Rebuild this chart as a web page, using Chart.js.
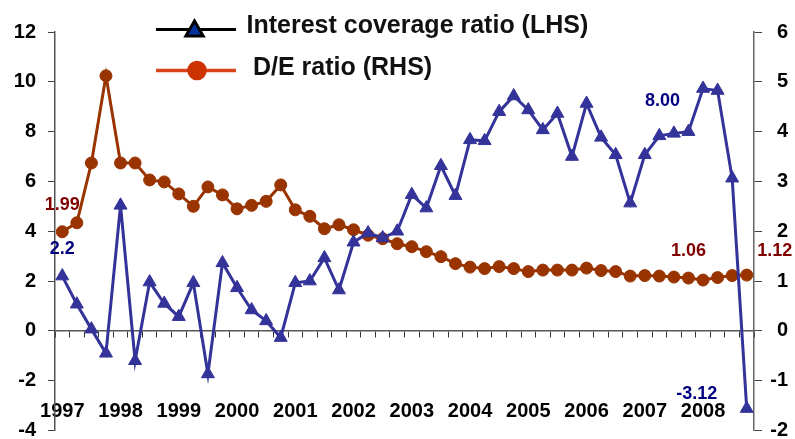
<!DOCTYPE html>
<html>
<head>
<meta charset="utf-8">
<script src="https://cdn.jsdelivr.net/npm/chart.js@4.4.1/dist/chart.umd.min.js"></script>
<style>
  html, body { margin: 0; padding: 0; background: #ffffff; }
  #wrap { width: 795px; height: 439px; }
</style>
</head>
<body>
<div id="wrap"><canvas id="c" width="795" height="439"></canvas></div>
<script>
// ---------- DATA ----------
const quarters = [
  '1997 Q1','1997 Q2','1997 Q3','1997 Q4',
  '1998 Q1','1998 Q2','1998 Q3','1998 Q4',
  '1999 Q1','1999 Q2','1999 Q3','1999 Q4',
  '2000 Q1','2000 Q2','2000 Q3','2000 Q4',
  '2001 Q1','2001 Q2','2001 Q3','2001 Q4',
  '2002 Q1','2002 Q2','2002 Q3','2002 Q4',
  '2003 Q1','2003 Q2','2003 Q3','2003 Q4',
  '2004 Q1','2004 Q2','2004 Q3','2004 Q4',
  '2005 Q1','2005 Q2','2005 Q3','2005 Q4',
  '2006 Q1','2006 Q2','2006 Q3','2006 Q4',
  '2007 Q1','2007 Q2','2007 Q3','2007 Q4',
  '2008 Q1','2008 Q2','2008 Q3','2008 Q4'
];
const yearLabels = ['1997','1998','1999','2000','2001','2002','2003','2004','2005','2006','2007','2008'];

const interestCoverage = [
  2.2, 1.07, 0.07, -0.9, 5.04, -1.2, 1.96, 1.1, 0.57, 1.93, -1.73, 2.73,
  1.73, 0.84, 0.4, -0.27, 1.93, 2.0, 2.93, 1.64, 3.56, 3.93, 3.73, 4.0,
  5.47, 4.93, 6.63, 5.43, 7.67, 7.63, 8.8, 9.43, 8.87, 8.07, 8.73, 7.0,
  9.13, 7.77, 7.07, 5.13, 7.07, 7.83, 7.93, 8.00, 9.73, 9.65, 6.13, -3.12
];
const deRatio = [
  1.99, 2.17, 3.37, 5.12, 3.37, 3.37, 3.03, 2.99, 2.75, 2.5, 2.89, 2.73,
  2.45, 2.52, 2.6, 2.93, 2.43, 2.3, 2.05, 2.13, 2.03, 1.92, 1.85, 1.75,
  1.69, 1.59, 1.49, 1.35, 1.28, 1.25, 1.29, 1.25, 1.19, 1.22, 1.22, 1.22,
  1.26, 1.21, 1.19, 1.1, 1.11, 1.1, 1.08, 1.06, 1.02, 1.07, 1.11, 1.12
];
const seriesNames = ['Interest coverage ratio (LHS)', 'D/E ratio (RHS)'];

const leftTicks = { min: -4, max: 12, step: 2 };
const rightTicks = { min: -2, max: 6, step: 1 };

// value call-outs: which series / which point / decimals shown
const noteSeries = [0, 1, 0, 1, 0, 1];
const noteIndex = [0, 0, 43, 43, 47, 47];
const noteDecimals = [1, 2, 2, 2, 2, 2];

// ---------- STYLE ----------
const FONT = '"Liberation Sans", Arial, sans-serif';
const noteOffsets = [[0, -27], [0, -27], [-26, -31], [0, -27], [-50, -15], [28, -24]];
const seriesColors = ['#333399', '#993300'];
const noteColors = ['#000080', '#800000'];

const notesPlugin = {
  id: 'valueNotes',
  afterDatasetsDraw(chart) {
    const ctx = chart.ctx;
    ctx.save();
    ctx.font = 'bold 18px ' + FONT;
    ctx.textAlign = 'center';
    ctx.textBaseline = 'middle';
    const sets = [interestCoverage, deRatio];
    for (let k = 0; k < noteIndex.length; k++) {
      const s = noteSeries[k], i = noteIndex[k];
      const pt = chart.getDatasetMeta(s).data[i];
      ctx.fillStyle = noteColors[s];
      ctx.fillText(sets[s][i].toFixed(noteDecimals[k]), pt.x + noteOffsets[k][0], pt.y + noteOffsets[k][1]);
    }
    ctx.restore();
  }
};

const legendPlugin = {
  id: 'overlayLegend',
  afterDraw(chart) {
    const ctx = chart.ctx;
    ctx.save();
    // item 1
    ctx.strokeStyle = '#000000';
    ctx.lineWidth = 3;
    ctx.beginPath(); ctx.moveTo(156, 29.5); ctx.lineTo(236, 29.5); ctx.stroke();
    ctx.fillStyle = '#0033a0';
    ctx.strokeStyle = '#000000';
    Chart.helpers.drawPoint(ctx, { pointStyle: 'triangle', radius: 10, borderWidth: 1 }, 194.5, 31);
    // item 2
    ctx.strokeStyle = '#d9441a';
    ctx.lineWidth = 3.5;
    ctx.beginPath(); ctx.moveTo(156, 70.5); ctx.lineTo(236, 70.5); ctx.stroke();
    ctx.fillStyle = '#cc3300';
    ctx.strokeStyle = '#cc3300';
    Chart.helpers.drawPoint(ctx, { pointStyle: 'circle', radius: 8, borderWidth: 1 }, 197, 70.5);
    // texts
    ctx.fillStyle = '#111111';
    ctx.font = 'bold 25px ' + FONT;
    ctx.textAlign = 'left';
    ctx.textBaseline = 'alphabetic';
    ctx.fillText(seriesNames[0], 246.5, 33);
    ctx.fillText(seriesNames[1], 253, 75);
    ctx.restore();
  }
};

const tickFont = { family: FONT, size: 20, weight: 'bold' };

new Chart(document.getElementById('c'), {
  type: 'line',
  data: {
    labels: quarters,
    datasets: [
      {
        label: seriesNames[0],
        data: interestCoverage,
        yAxisID: 'y',
        borderColor: seriesColors[0],
        backgroundColor: seriesColors[0],
        borderWidth: 3,
        pointStyle: 'triangle',
        pointRadius: 7.5,
        pointBorderWidth: 1,
        pointBackgroundColor: seriesColors[0],
        pointBorderColor: seriesColors[0],
        tension: 0,
        fill: false
      },
      {
        label: seriesNames[1],
        data: deRatio,
        yAxisID: 'y1',
        borderColor: seriesColors[1],
        backgroundColor: seriesColors[1],
        borderWidth: 3,
        pointStyle: 'circle',
        pointRadius: 6,
        pointBorderWidth: 1,
        pointBackgroundColor: seriesColors[1],
        pointBorderColor: seriesColors[1],
        tension: 0,
        fill: false
      }
    ]
  },
  options: {
    responsive: false,
    animation: false,
    events: [],
    layout: { padding: { left: 0, right: 7, top: 32, bottom: 7 } },
    plugins: { legend: { display: false }, tooltip: { enabled: false } },
    scales: {
      x: {
        type: 'category',
        offset: true,
        position: { y: 0 },
        grid: { offset: true, drawOnChartArea: false, drawTicks: true, tickLength: 6, color: '#333333', lineWidth: 1 },
        border: { display: true, color: '#555555', width: 1.5 },
        ticks: {
          autoSkip: false, maxRotation: 0, minRotation: 0, padding: 63,
          color: '#000000', font: tickFont,
          callback: (v, i) => (i % 4 === 0 ? yearLabels[i / 4] : '')
        },
        afterFit(s) { s.paddingLeft = 0; s.paddingRight = 0; }
      },
      y: {
        position: 'left',
        min: leftTicks.min, max: leftTicks.max,
        grid: { drawOnChartArea: false, drawTicks: true, tickLength: 7, color: '#444444' },
        border: { display: true, color: '#555555', width: 1.5 },
        ticks: { stepSize: leftTicks.step, padding: 12, color: '#000000', font: tickFont },
        afterFit(s) { s.width = 55; s.paddingTop = 0; s.paddingBottom = 0; }
      },
      y1: {
        position: 'right',
        min: rightTicks.min, max: rightTicks.max,
        grid: { drawOnChartArea: false, drawTicks: true, tickLength: 8, color: '#444444' },
        border: { display: true, color: '#666666', width: 1.5 },
        ticks: { stepSize: rightTicks.step, padding: 8, crossAlign: 'far', color: '#000000', font: tickFont },
        afterFit(s) { s.width = 34; s.paddingTop = 0; s.paddingBottom = 0; }
      }
    }
  },
  plugins: [notesPlugin, legendPlugin]
});
</script>
</body>
</html>
